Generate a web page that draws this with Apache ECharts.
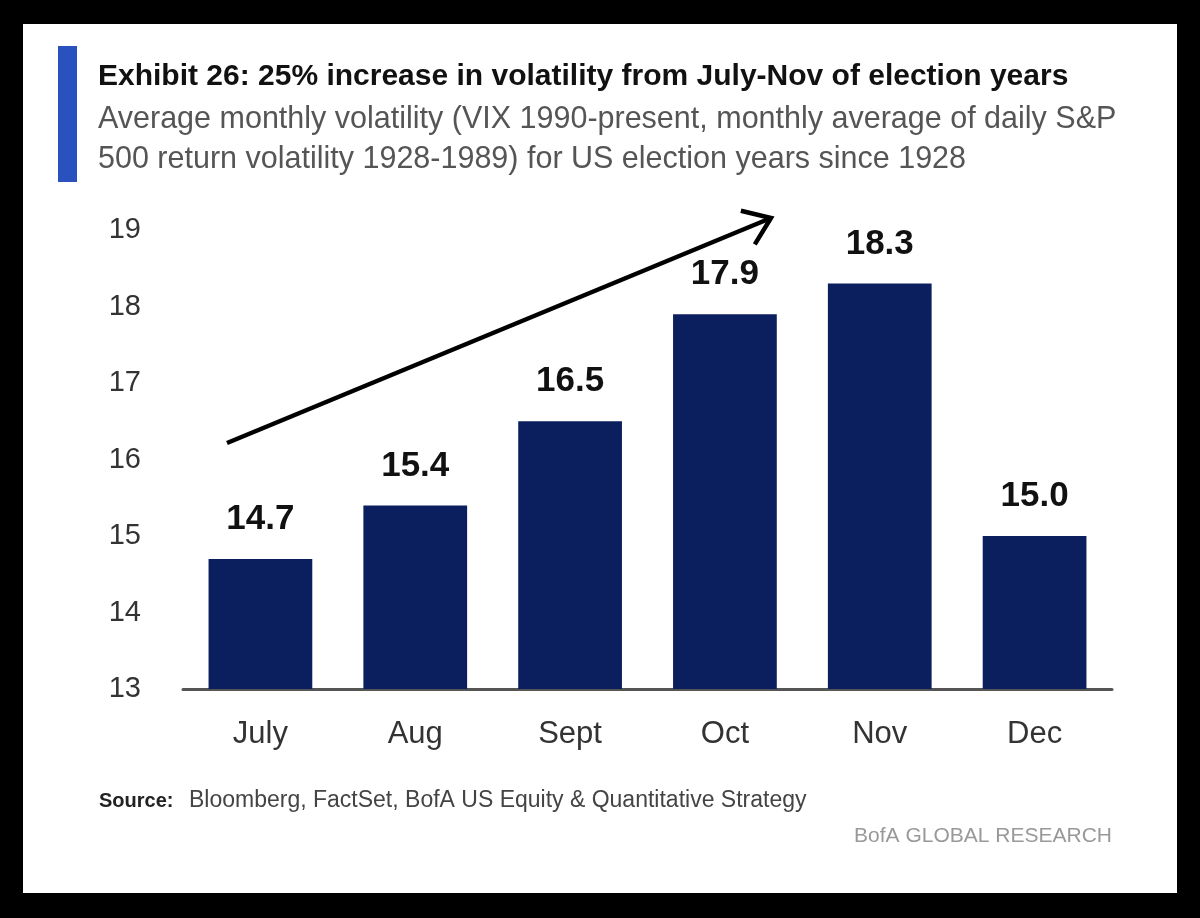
<!DOCTYPE html>
<html>
<head>
<meta charset="utf-8">
<script src="https://cdn.jsdelivr.net/npm/echarts@6/dist/echarts.min.js"></script>
<style>
html,body{margin:0;padding:0;background:#000;}
#chart{width:1200px;height:918px;}
</style>
</head>
<body>
<div id="chart"></div>
<script>
const categories = ['July', 'Aug', 'Sept', 'Oct', 'Nov', 'Dec'];
const volatility = [14.7, 15.4, 16.5, 17.9, 18.3, 15.0];
const yTicks = [13, 14, 15, 16, 17, 18, 19];

const titleText = 'Exhibit 26: 25% increase in volatility from July-Nov of election years';
const subtitleLines = [
  'Average monthly volatility (VIX 1990-present, monthly average of daily S&P',
  '500 return volatility 1928-1989) for US election years since 1928'
];
const sourceLabel = 'Source:';
const sourceText = 'Bloomberg, FactSet, BofA US Equity & Quantitative Strategy';
const brandText = 'BofA GLOBAL RESEARCH';

const chart = echarts.init(document.getElementById('chart'), null, {renderer: 'canvas'});

// arrow geometry (annotation)
const aStart = [227, 443], aEnd = [771, 218];
const dx = aEnd[0] - aStart[0], dy = aEnd[1] - aStart[1];
const len = Math.hypot(dx, dy);
const ux = -dx / len, uy = -dy / len;
const wing = 31, ang = 36 * Math.PI / 180;
const w1 = [aEnd[0] + wing * (ux * Math.cos(ang) - uy * Math.sin(ang)), aEnd[1] + wing * (ux * Math.sin(ang) + uy * Math.cos(ang))];
const w2 = [aEnd[0] + wing * (ux * Math.cos(-ang) - uy * Math.sin(-ang)), aEnd[1] + wing * (ux * Math.sin(-ang) + uy * Math.cos(-ang))];

const FF = '"Liberation Sans", Arial, sans-serif';

const option = {
  backgroundColor: '#000',
  animation: false,
  grid: {left: 183, right: 88, top: 230, bottom: 229, containLabel: false},
  xAxis: {
    type: 'category',
    data: categories,
    axisLine: {show: true, lineStyle: {color: '#555', width: 3}},
    axisTick: {show: false},
    axisLabel: {color: '#333', fontSize: 31, fontFamily: FF, margin: 30}
  },
  yAxis: {
    type: 'value',
    min: yTicks[0],
    max: yTicks[yTicks.length - 1],
    interval: 1,
    axisLine: {show: false},
    axisTick: {show: false},
    splitLine: {show: false},
    axisLabel: {color: '#333', fontSize: 29, fontFamily: FF, margin: 42}
  },
  series: [{
    type: 'bar',
    data: volatility,
    barCategoryGap: '33%',
    itemStyle: {color: '#0B1F5F'},
    label: {
      show: true,
      position: 'top',
      distance: 22,
      color: '#111',
      fontSize: 35,
      fontWeight: 'bold',
      fontFamily: FF,
      formatter: p => p.value.toFixed(1)
    }
  }],
  graphic: [
    {type: 'rect', z: -100, silent: true, shape: {x: 23, y: 24, width: 1154, height: 869}, style: {fill: '#fff'}},
    {type: 'rect', z: 10, shape: {x: 58, y: 46, width: 19, height: 136}, style: {fill: '#2A52BE'}},
    {type: 'text', z: 10, x: 98, y: 77, style: {text: titleText, fill: '#111', font: 'bold 30px ' + FF, textVerticalAlign: 'middle'}},
    {type: 'text', z: 10, x: 98, y: 120, style: {text: subtitleLines[0], fill: '#555', font: '30.5px ' + FF, textVerticalAlign: 'middle'}},
    {type: 'text', z: 10, x: 98, y: 160, style: {text: subtitleLines[1], fill: '#555', font: '30.5px ' + FF, textVerticalAlign: 'middle'}},
    {type: 'text', z: 10, x: 99, y: 801, style: {text: sourceLabel, fill: '#222', font: 'bold 20px ' + FF, textVerticalAlign: 'middle'}},
    {type: 'text', z: 10, x: 189, y: 801, style: {text: sourceText, fill: '#444', font: '23px ' + FF, textVerticalAlign: 'middle'}},
    {type: 'text', z: 10, x: 1112, y: 836, style: {text: brandText, fill: '#999', font: '21px ' + FF, textAlign: 'right', textVerticalAlign: 'middle'}},
    {type: 'line', z: 10, shape: {x1: aStart[0], y1: aStart[1], x2: aEnd[0], y2: aEnd[1]}, style: {stroke: '#000', lineWidth: 4.5}},
    {type: 'polyline', z: 10, shape: {points: [w1, aEnd, w2]}, style: {stroke: '#000', lineWidth: 4.5, fill: null, lineJoin: 'miter'}}
  ]
};
chart.setOption(option);
</script>
</body>
</html>
